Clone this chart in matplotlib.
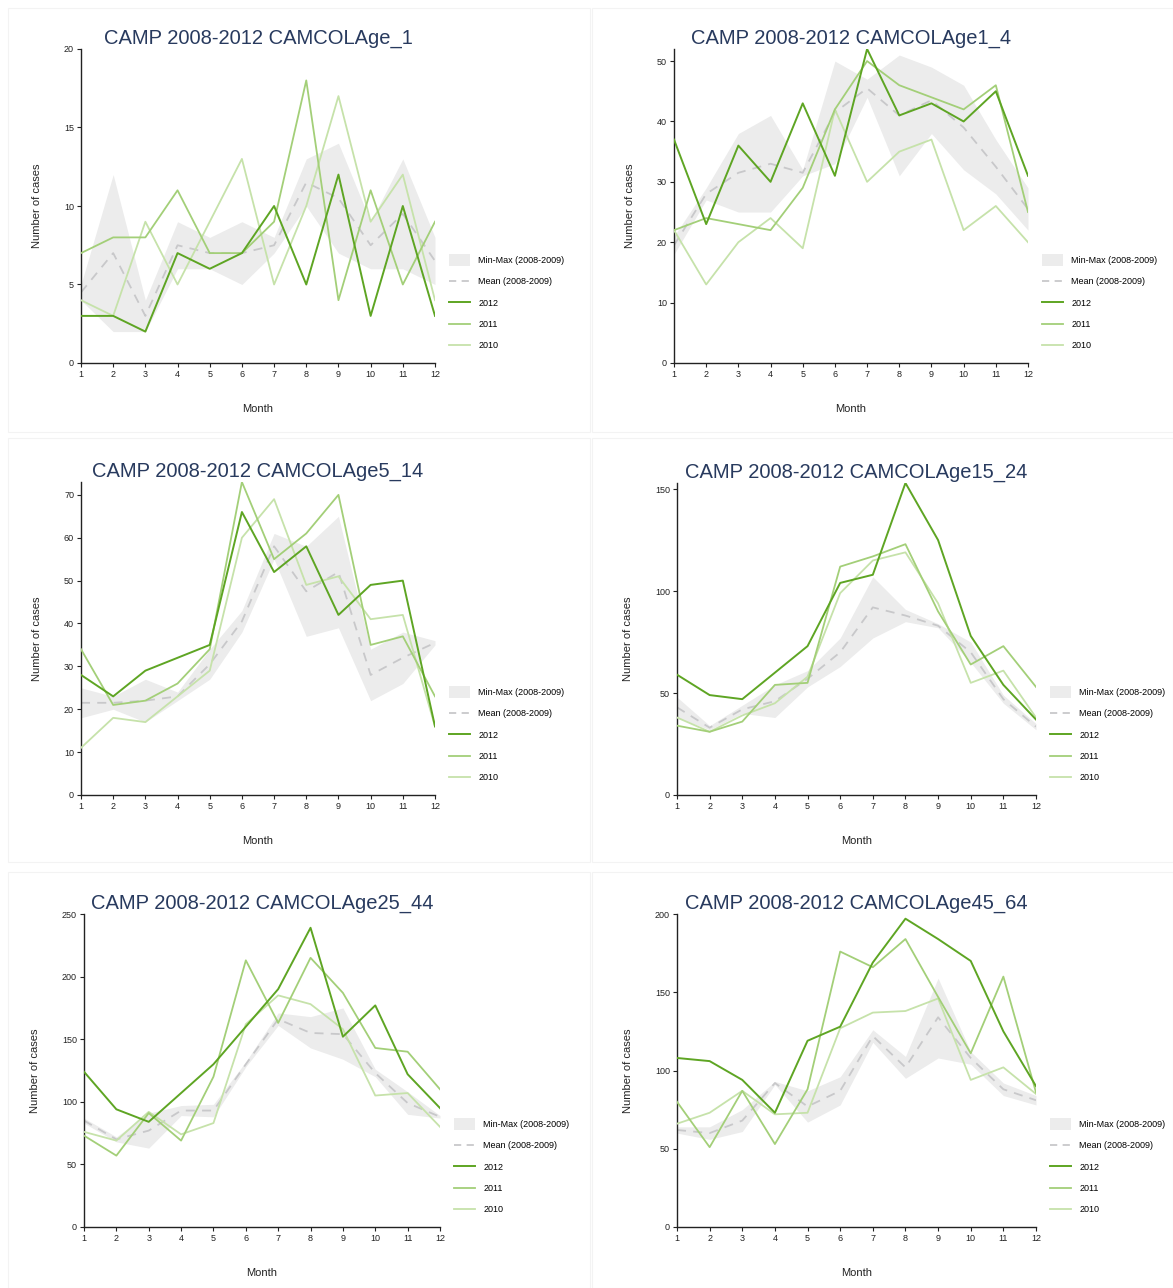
import matplotlib
matplotlib.use("Agg")
import matplotlib.pyplot as plt
from matplotlib.patches import Patch, Rectangle
from matplotlib.lines import Line2D
from matplotlib.legend_handler import HandlerPatch

plt.rcParams['font.family'] = ['Liberation Sans', 'DejaVu Sans']

months = list(range(1, 13))

# ---- CAMCOLAge_1
age_1_2012 = [3, 3, 2, 7, 6, 7, 10, 5, 12, 3, 10, 3]
age_1_2011 = [7, 8, 8, 11, 7, 7, 9, 18, 4, 11, 5, 9]
age_1_2010 = [4, 3, 9, 5, 9, 13, 5, 10, 17, 9, 12, 4]
age_1_mean = [4.5, 7, 3, 7.5, 7, 7, 7.5, 11.5, 10.5, 7.5, 9.5, 6.5]
age_1_min = [4, 2, 2, 6, 6, 5, 7, 10, 7, 6, 6, 5]
age_1_max = [5, 12, 4, 9, 8, 9, 8, 13, 14, 9, 13, 8]

# ---- CAMCOLAge1_4
age1_4_2012 = [37, 23, 36, 30, 43, 31, 52, 41, 43, 40, 45, 31]
age1_4_2011 = [22, 24, 23, 22, 29, 42, 50, 46, 44, 42, 46, 25]
age1_4_2010 = [22, 13, 20, 24, 19, 42, 30, 35, 37, 22, 26, 20]
age1_4_mean = [19.5, 28, 31.5, 33, 31.5, 41.5, 45.5, 41, 43.5, 39, 32.5, 25.5]
age1_4_min = [18, 27, 25, 25, 31, 33, 44, 31, 38, 32, 28, 22]
age1_4_max = [21, 29, 38, 41, 32, 50, 47, 51, 49, 46, 37, 29]

# ---- CAMCOLAge5_14
age5_14_2012 = [28, 23, 29, 32, 35, 66, 52, 58, 42, 49, 50, 16]
age5_14_2011 = [34, 21, 22, 26, 34, 73, 55, 61, 70, 35, 37, 23]
age5_14_2010 = [11, 18, 17, 23, 29, 60, 69, 49, 51, 41, 42, 16]
age5_14_mean = [21.5, 21.5, 22, 23, 30.5, 40.5, 58, 47.5, 52, 28, 32, 35.5]
age5_14_min = [18, 20, 17, 22, 27, 38, 55, 37, 39, 22, 26, 35]
age5_14_max = [25, 23, 27, 24, 34, 43, 61, 58, 65, 34, 38, 36]

# ---- CAMCOLAge15_24
age15_24_2012 = [59, 49, 47, 60, 73, 104, 108, 153, 125, 78, 54, 37]
age15_24_2011 = [34, 31, 36, 54, 55, 112, 117, 123, 90, 64, 73, 53]
age15_24_2010 = [38, 31, 39, 45, 58, 99, 115, 119, 94, 55, 61, 38]
age15_24_mean = [43, 33, 42, 46, 57, 70, 92, 88, 83, 70, 47, 33.5]
age15_24_min = [38, 32, 40, 38, 53, 63, 77, 85, 82, 65, 45, 32]
age15_24_max = [48, 34, 44, 54, 61, 77, 107, 91, 84, 75, 49, 35]

# ---- CAMCOLAge25_44
age25_44_2012 = [124, 94, 84, 107, 130, 160, 190, 239, 152, 177, 122, 95]
age25_44_2011 = [73, 57, 91, 69, 120, 213, 163, 215, 187, 143, 140, 110]
age25_44_2010 = [76, 69, 92, 74, 83, 162, 185, 178, 158, 105, 107, 80]
age25_44_mean = [85, 70, 77, 93, 93, 130, 166, 155, 154, 123, 99, 88]
age25_44_min = [83, 68, 63, 89, 88, 128, 161, 143, 134, 120, 90, 87]
age25_44_max = [87, 72, 91, 97, 98, 132, 171, 168, 175, 126, 108, 89]

# ---- CAMCOLAge45_64
age45_64_2012 = [108, 106, 94, 73, 119, 128, 169, 197, 184, 170, 125, 90]
age45_64_2011 = [80, 51, 87, 53, 88, 176, 166, 184, 147, 111, 160, 86]
age45_64_2010 = [66, 73, 87, 72, 73, 127, 137, 138, 146, 94, 102, 85]
age45_64_mean = [62, 60, 68, 92, 77, 87, 122, 102, 134, 108, 88, 81]
age45_64_min = [60, 56, 61, 91, 67, 78, 118, 95, 108, 104, 84, 78]
age45_64_max = [64, 64, 75, 93, 87, 96, 126, 109, 159, 112, 92, 84]

titles = ['CAMP 2008-2012 CAMCOLAge_1', 'CAMP 2008-2012 CAMCOLAge1_4',
          'CAMP 2008-2012 CAMCOLAge5_14', 'CAMP 2008-2012 CAMCOLAge15_24',
          'CAMP 2008-2012 CAMCOLAge25_44', 'CAMP 2008-2012 CAMCOLAge45_64']
panels = [
    (age_1_2012, age_1_2011, age_1_2010, age_1_mean, age_1_min, age_1_max),
    (age1_4_2012, age1_4_2011, age1_4_2010, age1_4_mean, age1_4_min, age1_4_max),
    (age5_14_2012, age5_14_2011, age5_14_2010, age5_14_mean, age5_14_min, age5_14_max),
    (age15_24_2012, age15_24_2011, age15_24_2010, age15_24_mean, age15_24_min, age15_24_max),
    (age25_44_2012, age25_44_2011, age25_44_2010, age25_44_mean, age25_44_min, age25_44_max),
    (age45_64_2012, age45_64_2011, age45_64_2010, age45_64_mean, age45_64_min, age45_64_max),
]
y_tops = [20, 52, 73, 153, 250, 200]
y_ticks = [range(0, 21, 5), range(0, 51, 10), range(0, 71, 10),
           range(0, 151, 50), range(0, 251, 50), range(0, 201, 50)]

c2012 = '#5ea523'
c2011 = '#a3cf78'
c2010 = '#c6e2aa'
cmean = '#c8c8ca'
cband = '#ececec'
title_col = '#283a5e'


def tall_box(legend, orig_handle, xdescent, ydescent, width, height, fontsize):
    # square-ish swatch for the band, taller than the line handles
    h = height * 2.0
    return Rectangle((-xdescent, -ydescent - (h - height) / 2), width, h)


W, H = 1173, 1288
fig = plt.figure(figsize=(W / 100, H / 100), dpi=100)

# card outlines
cards = [(8, 8, 582, 424), (592, 8, 581, 424), (8, 438, 582, 424),
         (592, 438, 581, 424), (8, 872, 582, 416), (592, 872, 581, 416)]
for cx, cy, cw, ch in cards:
    fig.patches.append(Rectangle((cx / W, 1 - (cy + ch) / H), cw / W, ch / H,
                                 transform=fig.transFigure, fill=False,
                                 edgecolor='#f3f3f3', linewidth=0.8))

# axes boxes in pixels: left, right, y of zero, y of top
boxes = [(81, 435, 363, 49), (674, 1028, 363, 49),
         (81, 435, 795, 482), (677, 1036, 795, 483),
         (84, 440, 1227, 914), (677, 1036, 1227, 914)]

for i, (data, box) in enumerate(zip(panels, boxes)):
    s12, s11, s10, mean, lo, hi = data
    l, r, yb, yt = box
    ax = fig.add_axes([l / W, 1 - yb / H, (r - l) / W, (yb - yt) / H])
    ax.fill_between(months, lo, hi, color=cband, linewidth=0, zorder=1)
    ax.plot(months, mean, color=cmean, linestyle=(0, (5, 4)), linewidth=1.3, zorder=2)
    ax.plot(months, s10, color=c2010, linewidth=1.3, zorder=3)
    ax.plot(months, s11, color=c2011, linewidth=1.3, zorder=4)
    ax.plot(months, s12, color=c2012, linewidth=1.4, zorder=5)

    ax.set_xlim(1, 12)
    ax.set_ylim(0, y_tops[i])
    ax.set_xticks(months)
    ax.set_yticks(list(y_ticks[i]))
    ax.tick_params(labelsize=6.5, length=3, width=0.8, colors='#222222', pad=2)
    for side in ('top', 'right'):
        ax.spines[side].set_visible(False)
    for side in ('left', 'bottom'):
        ax.spines[side].set_color('#222222')
        ax.spines[side].set_linewidth(1.0)
    ax.set_xlabel('Month', fontsize=8, labelpad=18, color='#222222')
    ax.set_ylabel('Number of cases', fontsize=8, labelpad=16, color='#222222')
    ax.set_title(titles[i], fontsize=14.5, color=title_col, pad=4)

    handles = [Patch(facecolor=cband, edgecolor='none'),
               Line2D([], [], color=cmean, linestyle=(0, (4, 3)), linewidth=1.3),
               Line2D([], [], color=c2012, linewidth=1.4),
               Line2D([], [], color=c2011, linewidth=1.3),
               Line2D([], [], color=c2010, linewidth=1.3)]
    labels = ['Min-Max (2008-2009)', 'Mean (2008-2009)', '2012', '2011', '2010']
    ax.legend(handles, labels, loc='lower left', bbox_to_anchor=(1.03, 0.03),
              frameon=False, fontsize=6.5, labelspacing=1.35, handlelength=2.3,
              handletextpad=0.9, borderaxespad=0,
              handler_map={Patch: HandlerPatch(patch_func=tall_box)})

fig.savefig('out.png', dpi=100)
